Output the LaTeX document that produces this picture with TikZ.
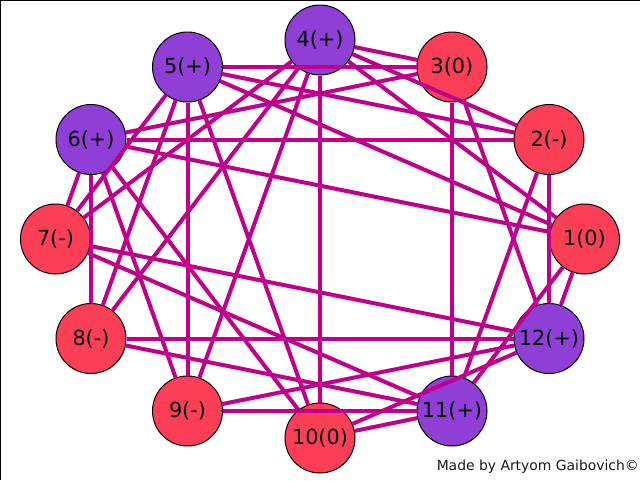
\documentclass[tikz,border=0pt]{standalone}
\usepackage{fontspec}
\setmainfont{DejaVu Sans}
\definecolor{nred}{RGB}{252,63,87}
\definecolor{npur}{RGB}{143,63,214}
\definecolor{edgec}{RGB}{192,0,141}
\tikzset{
  vnode/.style={circle, draw=black, line width=1pt, minimum size=70pt, inner sep=0pt,
    font=\fontsize{20.8}{24}\selectfont},
  rednode/.style={vnode, fill=nred},
  purnode/.style={vnode, fill=npur},
  link/.style={draw=edgec, line width=4pt},
  credit/.style={font=\fontsize{13.9}{16}\selectfont, text=black!90, inner sep=0pt}
}
\begin{document}
\begin{tikzpicture}[x=1pt,y=-1pt]
\useasboundingbox (0,0) rectangle (640,480);
\fill[white] (0,0) rectangle (640,480);
\draw[black, line width=1.5pt] (0,480) -- (0,0) -- (640,0);
% nodes
\node[rednode] (n1) at (584.5,239) {1(0)};
\node[rednode] (n2) at (549,139.5) {2(-)};
\node[rednode] (n3) at (452,67) {3(0)};
\node[purnode] (n4) at (320,40) {4(+)};
\node[purnode] (n5) at (187.5,67) {5(+)};
\node[purnode] (n6) at (91,139.5) {6(+)};
\node[rednode] (n7) at (55.5,239) {7(-)};
\node[rednode] (n8) at (91,338.5) {8(-)};
\node[rednode] (n9) at (187.5,411) {9(-)};
\node[rednode] (n10) at (320,438) {10(0)};
\node[purnode] (n11) at (452,411) {11(+)};
\node[purnode] (n12) at (549,338.5) {12(+)};
% edges (behind nodes)
\begin{scope}[on background layer/.try]
\end{scope}
\foreach \a/\b in {1/4,1/5,1/6,1/11,1/12,
                   2/4,2/5,2/6,2/11,2/12,
                   3/4,3/5,3/6,3/11,3/12,
                   4/7,4/8,4/9,4/10,
                   5/7,5/8,5/9,5/10,
                   6/7,6/8,6/9,6/10,
                   7/11,7/12,8/11,8/12,9/11,9/12,10/11,10/12}
  \draw[link] (n\a) -- (n\b);
\node[credit, anchor=east] (credit) at (639,467) {Made by Artyom Gaibovich©};
\end{tikzpicture}
\end{document}
